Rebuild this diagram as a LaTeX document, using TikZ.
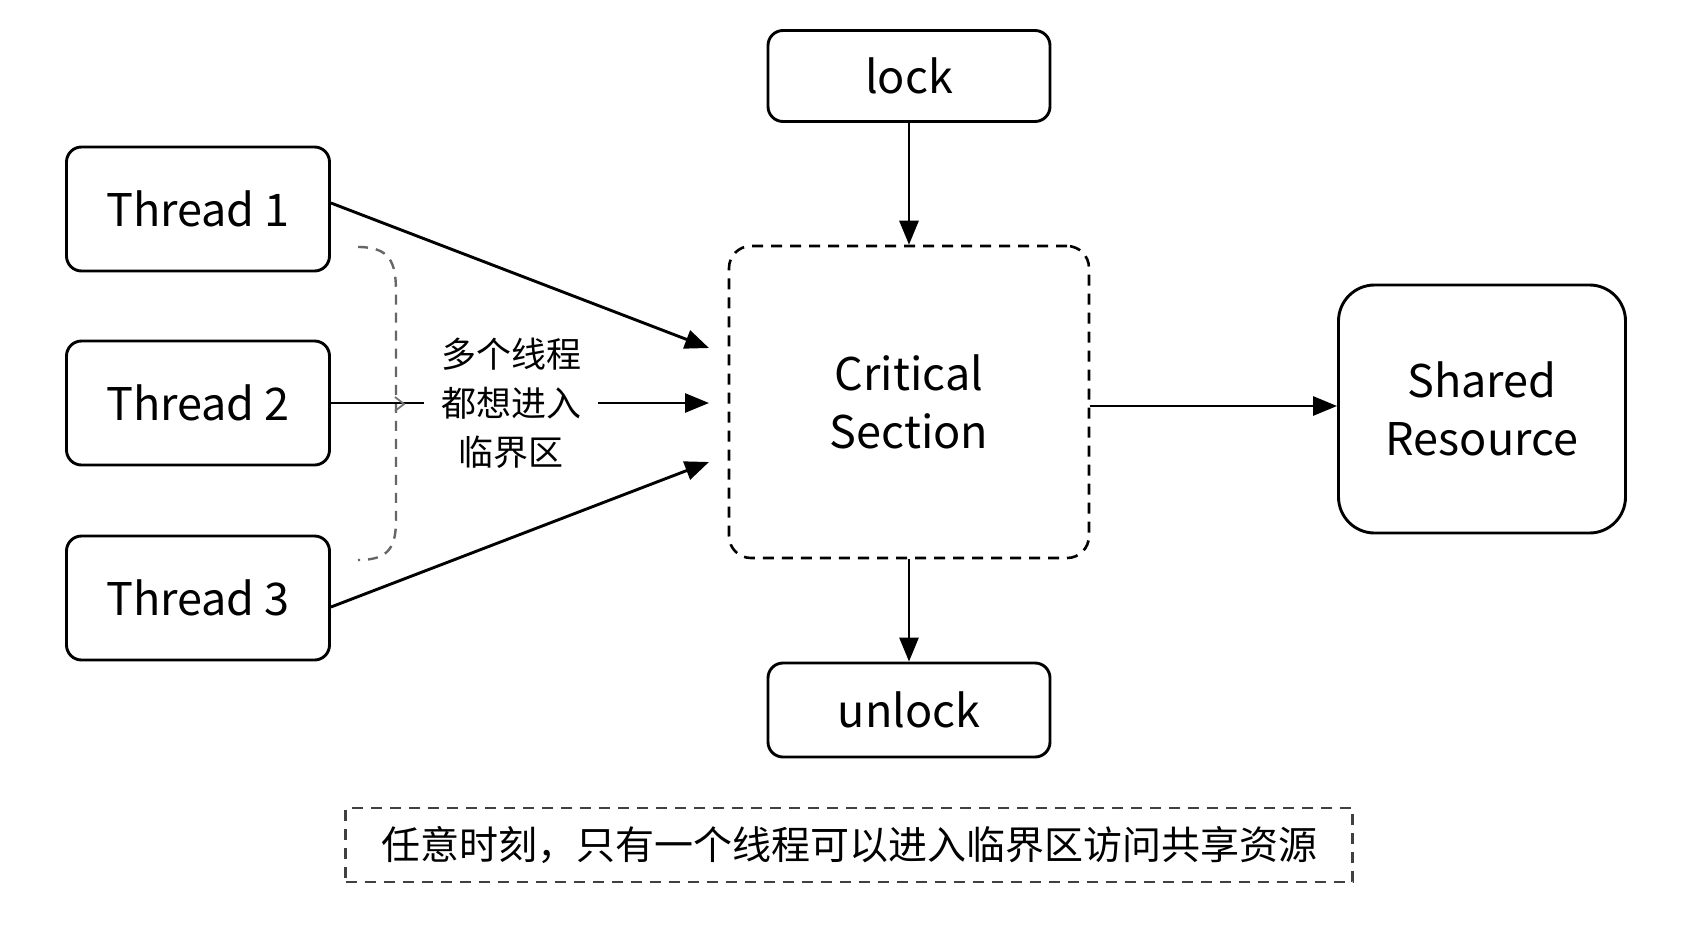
\documentclass[tikz,border=0pt]{standalone}
\usepackage{fontspec}
\setmainfont{Noto Sans CJK SC}
\usetikzlibrary{arrows.meta}
\begin{document}
\begin{tikzpicture}[x=1pt,y=-1pt,
  box/.style={draw=black,line width=2.9pt,rounded corners=15pt,align=center,
    font=\fontsize{45}{58}\selectfont,inner sep=0pt},
  arr/.style={line width=2.9pt,-{Triangle[length=24pt,width=19pt]}},
  dbox/.style={draw=black,line width=2.6pt,dash pattern=on 11pt off 8pt}
]
\useasboundingbox[fill=white] (0,0) rectangle (1693,929);
\node[box,minimum width=263pt,minimum height=124pt] (t1) at (198,209) {Thread 1};
\node[box,minimum width=263pt,minimum height=124pt] (t2) at (198,403) {Thread 2};
\node[box,minimum width=263pt,minimum height=124pt] (t3) at (198,598) {Thread 3};
\node[box,minimum width=282pt,minimum height=91pt] (lock) at (909,76) {lock};
\node[box,minimum width=282pt,minimum height=94pt] (unlock) at (909,710) {unlock};
\node[box,dbox,rounded corners=22pt,minimum width=360pt,minimum height=312pt] (crit) at (909,402) {Critical\\Section};
\node[box,rounded corners=36pt,minimum width=287pt,minimum height=248pt] (res) at (1482,409) {Shared\\Resource};
\node[dbox,line width=2.2pt,black!75,text=black,minimum width=1007pt,minimum height=74pt,inner sep=0pt,
  font=\fontsize{39}{44}\selectfont] (note) at (849,845) {任意时刻，只有一个线程可以进入临界区访问共享资源};
\node[align=center,inner xsep=17pt,inner ysep=2pt,font=\fontsize{35}{49}\selectfont] (lbl) at (511,403) {多个线程\\都想进入\\临界区};
% gray dashed bracket
\draw[black!60,line width=2.4pt,dash pattern=on 10pt off 8pt]
  (358,247) .. controls (390,247) and (396,262) .. (396,292) -- (396,520)
  .. controls (396,548) and (388,560) .. (358,560);
% arrows
\coordinate (a1) at (709,348);
\coordinate (a2) at (709,403);
\coordinate (a3) at (709,462);
\draw[arr] (t1.east) ++(0,-6) -- (a1);
\draw[line width=2.9pt] (t2.east) -- (lbl.west);
\draw[black!55,line width=1.8pt] (395,397) -- (404,404) -- (395,411);
\draw[arr] (lbl.east) -- (a2);
\draw[arr] (t3.east) ++(0,9) -- (a3);
\draw[arr] (lock.south) -- (crit.north);
\draw[arr] (crit.south) -- (unlock.north);
\draw[arr] (crit.east |- 0,406) -- (res.west |- 0,406);
\end{tikzpicture}
\end{document}
